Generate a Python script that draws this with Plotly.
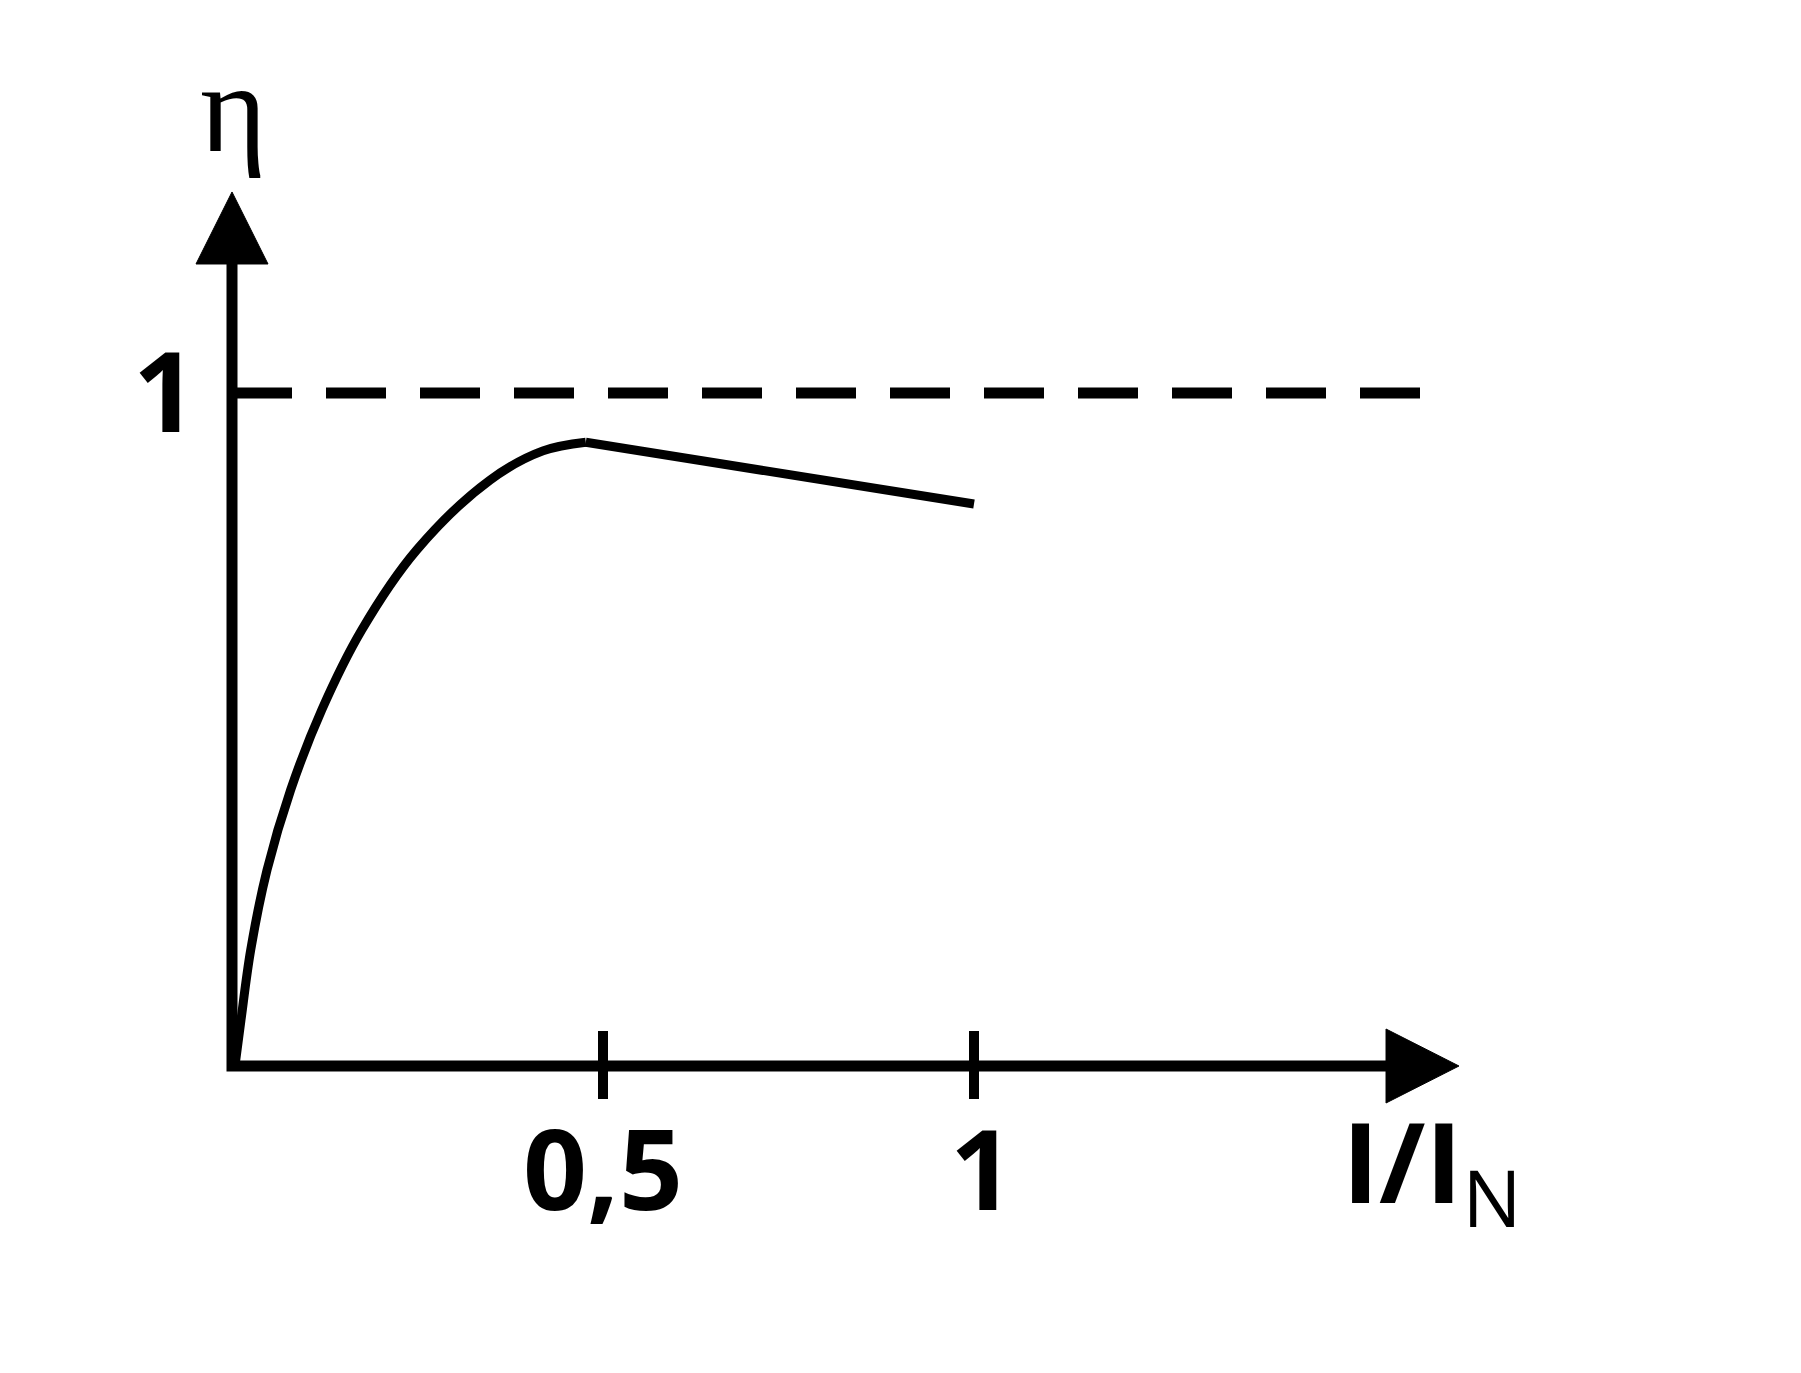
import plotly.graph_objects as go

# Efficiency curve: I/I_N vs eta
load = [0.004, 0.0121, 0.0252, 0.0472, 0.079, 0.1209, 0.1748, 0.2489, 0.3477, 0.419, 0.4768, 1.0]
eta = [0.0, 0.0683, 0.1724, 0.2912, 0.4101, 0.529, 0.6478, 0.7667, 0.8707, 0.914, 0.9269, 0.835]
PEAK_INDEX = 10

x_ticks = [0.5, 1.0]
x_tick_labels = ["0,5", "1"]
y_ticks = [1.0]
y_tick_labels = ["1"]
ref_level = 1.0

W, H = 1801, 1373
PX_X = 742.0   # pixels per unit on x
PX_Y = 673.0   # pixels per unit on y
X0_PIX = 224.0
Y0_PIX = 1058.0

x_lo = -X0_PIX / PX_X
x_hi = x_lo + W / PX_X
y_hi = Y0_PIX / PX_Y
y_lo = y_hi - H / PX_Y

def dx(p):
    return p / PX_X

def dy(p):
    return p / PX_Y

x_arrow_tip = 1.6536
x_arrow_base = 1.5553
y_arrow_tip = 1.2987
y_arrow_base = 1.1917
dash_end = 1.606

fig = go.Figure()

# reference dashed line at eta = 1
fig.add_trace(go.Scatter(x=[0, dash_end], y=[ref_level, ref_level], mode="lines",
                         line=dict(color="black", width=11, dash="60px,34px"),
                         hoverinfo="skip"))

# axes
fig.add_trace(go.Scatter(x=[0, 0, x_arrow_base], y=[y_arrow_base, 0, 0], mode="lines",
                         line=dict(color="black", width=11), hoverinfo="skip"))

# arrow heads
fig.add_trace(go.Scatter(x=[x_arrow_base, x_arrow_tip, x_arrow_base, x_arrow_base],
                         y=[dy(37), 0, -dy(37), dy(37)], mode="lines", fill="toself",
                         fillcolor="black", line=dict(color="black", width=1), hoverinfo="skip"))
fig.add_trace(go.Scatter(x=[-dx(36), 0, dx(36), -dx(36)],
                         y=[y_arrow_base, y_arrow_tip, y_arrow_base, y_arrow_base], mode="lines",
                         fill="toself", fillcolor="black", line=dict(color="black", width=1),
                         hoverinfo="skip"))

# ticks on x axis
for t in x_ticks:
    fig.add_trace(go.Scatter(x=[t, t], y=[dy(35), -dy(33)], mode="lines",
                             line=dict(color="black", width=10), hoverinfo="skip"))

# efficiency curve: rising arc then straight falling part
fig.add_trace(go.Scatter(x=load[:PEAK_INDEX + 1], y=eta[:PEAK_INDEX + 1], mode="lines",
                         line=dict(color="black", width=9, shape="spline", smoothing=1.0),
                         hoverinfo="skip"))
fig.add_trace(go.Scatter(x=load[PEAK_INDEX:], y=eta[PEAK_INDEX:], mode="lines",
                         line=dict(color="black", width=9), hoverinfo="skip"))

ann = []
for t, lab in zip(x_ticks, x_tick_labels):
    off = dx(8) if lab == "1" else 0.0
    ann.append(dict(x=t + off, y=-dy(100), xref="x", yref="y", text="<b>" + lab + "</b>",
                    showarrow=False, font=dict(family="Open Sans", size=112, color="black"),
                    xanchor="center", yanchor="middle"))
for t, lab in zip(y_ticks, y_tick_labels):
    ann.append(dict(x=-dx(67), y=t + dy(5), xref="x", yref="y", text="<b>" + lab + "</b>",
                    showarrow=False, font=dict(family="Open Sans", size=112, color="black"),
                    xanchor="center", yanchor="middle"))
ann.append(dict(x=dx(1), y=y_arrow_tip + dy(84), xref="x", yref="y", text="η", showarrow=False,
                font=dict(family="Liberation Serif", size=128, color="black"),
                xanchor="center", yanchor="middle"))
ann.append(dict(x=x_arrow_base + dx(45), y=-dy(100), xref="x", yref="y",
                text="<b>I/I</b><sub>N</sub>", showarrow=False,
                font=dict(family="Open Sans", size=112, color="black"),
                xanchor="center", yanchor="middle"))

fig.update_layout(
    width=W, height=H,
    margin=dict(l=0, r=0, t=0, b=0),
    paper_bgcolor="white", plot_bgcolor="white",
    showlegend=False,
    xaxis=dict(range=[x_lo, x_hi], visible=False, fixedrange=True),
    yaxis=dict(range=[y_lo, y_hi], visible=False, fixedrange=True),
    annotations=ann,
    font=dict(family="Open Sans"),
)

fig.write_html("out.html")
